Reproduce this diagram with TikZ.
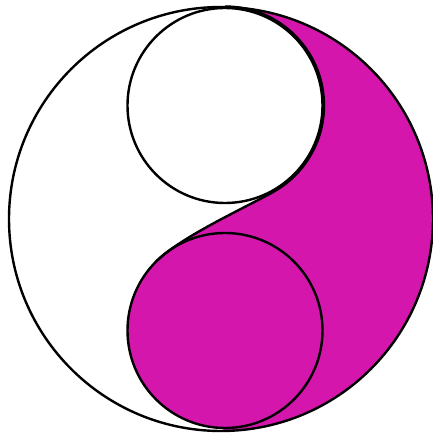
\documentclass[tikz,border=0pt]{standalone}
\definecolor{yinmag}{RGB}{212,22,172}
\begin{document}
\begin{tikzpicture}[x=1pt,y=1pt,
  outline/.style={draw=black,line width=2.4pt},
  magfill/.style={fill=yinmag}]
\useasboundingbox (0,0) rectangle (433,437);
\fill[white] (0,0) rectangle (433,437);
% coordinates
\coordinate (bigc) at (221,218);
\coordinate (topc) at (225,331.5);
\coordinate (botc) at (225,106.5);
\coordinate (stop) at (225,430.5);
\coordinate (send) at (156.1,175.4);
% magenta region
\path[magfill] (stop) arc[start angle=90, end angle=-61, radius=99]
  coordinate (sturn)
  .. controls (242.4,227.9) and (180.8,200.1) .. (send)
  arc[start angle=135, end angle=270, radius=97.5]
  -- (221,6) arc[start angle=270, end angle=450, radius=212] -- cycle;
\fill[yinmag] (botc) circle[radius=97.5];
% outlines
\draw[outline] (bigc) circle[radius=212];
\draw[outline] (topc) circle[radius=97.5];
\draw[outline] (botc) circle[radius=97.5];
\draw[outline] (stop) arc[start angle=90, end angle=-61, radius=99]
  .. controls (242.4,227.9) and (180.8,200.1) .. (send);
\end{tikzpicture}
\end{document}
